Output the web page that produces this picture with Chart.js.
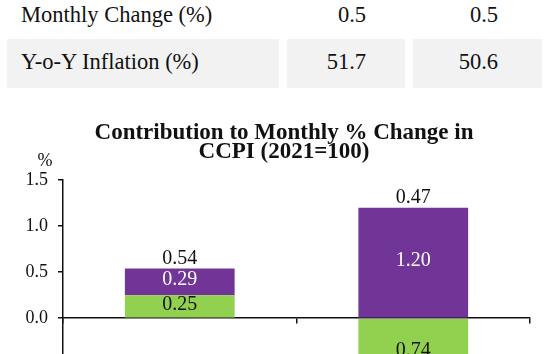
<!DOCTYPE html>
<html>
<head>
<meta charset="utf-8">
<script src="https://cdn.jsdelivr.net/npm/chart.js@4.4.0/dist/chart.umd.min.js"></script>
<style>
  html, body { margin: 0; padding: 0; width: 550px; height: 354px; overflow: hidden; background: #fff; }
  body { position: relative; font-family: "Liberation Serif", "Times New Roman", serif; color: #111; }
  .cell { position: absolute; box-sizing: border-box; font-family: "Liberation Serif", serif; font-size: 22.5px; line-height: 24px; white-space: nowrap; }
  .gray { background: #f2f2f2; }
  #chartBox { position: absolute; left: 0; top: 110px; width: 568px; height: 321px; }
</style>
</head>
<body>
<div id="table"></div>
<div id="chartBox"><canvas id="chart"></canvas></div>
<script>
// table above the chart
const rowLabels = ['Monthly Change (%)', 'Y-o-Y Inflation (%)'];
const firstColumn = ['0.5', '51.7'];
const secondColumn = ['0.5', '50.6'];

// chart data
const categories = ['January', 'February'];
const foodValues = [0.25, -0.74];
const nonFoodValues = [0.29, 1.20];
const totalValues = [0.54, 0.47];
const yTickValues = [-1.0, -0.5, 0.0, 0.5, 1.0, 1.5];

const FONT = '"Liberation Serif", "Times New Roman", serif';
const GREEN = '#92d050';
const PURPLE = '#703597';

function buildTable() {
  const table = document.getElementById('table');
  const rows = [
    { top: -8, height: 41, pad: 11, shade: false },
    { top: 39, height: 49, pad: 11, shade: true }
  ];
  const cols = [
    { left: 7, width: 272, align: 'left', pad: 14 },
    { left: 287, width: 118, align: 'right', pad: 39 },
    { left: 413, width: 129, align: 'right', pad: 44 }
  ];
  rows.forEach((r, i) => {
    const texts = [rowLabels[i], firstColumn[i], secondColumn[i]];
    cols.forEach((c, j) => {
      const div = document.createElement('div');
      div.className = 'cell' + (r.shade ? ' gray' : '');
      div.style.top = r.top + 'px';
      div.style.height = r.height + 'px';
      div.style.left = c.left + 'px';
      div.style.width = c.width + 'px';
      div.style.paddingTop = r.pad + 'px';
      div.style.textAlign = c.align;
      if (c.align === 'left') div.style.paddingLeft = c.pad + 'px';
      else div.style.paddingRight = c.pad + 'px';
      div.textContent = texts[j];
      table.appendChild(div);
    });
  });
}
buildTable();

// value labels inside the bars, totals above, and the % unit
const barLabels = {
  id: 'barLabels',
  beforeDatasetsDraw(chart) {
    const { ctx, scales } = chart;
    ctx.save();
    ctx.font = '20px ' + FONT;
    ctx.textAlign = 'center';
    ctx.textBaseline = 'middle';
    ctx.fillStyle = '#111';
    totalValues.forEach((t, j) => {
      const top = Math.max(0, foodValues[j]) + Math.max(0, nonFoodValues[j]);
      const x = chart.getDatasetMeta(0).data[j].x;
      ctx.fillText(t.toFixed(2), x, scales.y.getPixelForValue(top) - 10);
    });
    ctx.restore();
  },
  afterDatasetsDraw(chart) {
    const { ctx, chartArea } = chart;
    ctx.save();
    ctx.font = '20px ' + FONT;
    ctx.textAlign = 'center';
    ctx.textBaseline = 'middle';
    chart.data.datasets.forEach((ds, i) => {
      chart.getDatasetMeta(i).data.forEach((bar, j) => {
        const p = bar.getProps(['x', 'y', 'base'], true);
        ctx.fillStyle = ds.labelColor;
        ctx.fillText(Math.abs(ds.data[j]).toFixed(2), p.x, (p.y + p.base) / 2 - 2);
      });
    });
    ctx.font = '18px ' + FONT;
    ctx.fillStyle = '#111';
    ctx.fillText('%', chartArea.left - 18, chartArea.top - 19);
    ctx.restore();
  }
};

new Chart(document.getElementById('chart'), {
  type: 'bar',
  data: {
    labels: categories,
    datasets: [
      { label: 'Food', data: foodValues, backgroundColor: GREEN, labelColor: '#111' },
      { label: 'Non-Food', data: nonFoodValues, backgroundColor: PURPLE, labelColor: '#fff' }
    ]
  },
  options: {
    responsive: true,
    maintainAspectRatio: false,
    animation: false,
    events: [],
    layout: { padding: { left: 0, right: 0, top: 0, bottom: 12 } },
    datasets: { bar: { categoryPercentage: 1, barPercentage: 0.47 } },
    plugins: {
      legend: { display: false },
      tooltip: { enabled: false },
      title: {
        display: true,
        text: ['Contribution to Monthly % Change in', 'CCPI (2021=100)'],
        color: '#111',
        font: { family: FONT, size: 23, weight: 'bold', lineHeight: 0.85 },
        padding: { top: 13, bottom: 18 }
      }
    },
    scales: {
      x: {
        stacked: true,
        position: { y: 0 },
        ticks: { display: false },
        grid: { drawOnChartArea: false, offset: true, tickLength: 5, color: '#111', lineWidth: 1.5 },
        border: { color: '#111', width: 1.5 }
      },
      y: {
        stacked: true,
        min: -1.0,
        max: 1.5,
        afterBuildTicks(scale) { scale.ticks = yTickValues.map(v => ({ value: v })); },
        afterFit(scale) { scale.width = 63; },
        ticks: {
          callback: v => v.toFixed(1),
          color: '#111',
          padding: 10,
          font: { family: FONT, size: 18 }
        },
        grid: { drawOnChartArea: false, tickLength: 5, color: '#111', lineWidth: 1.5 },
        border: { color: '#111', width: 1.5 }
      },
      // empty right-hand space so the title stays centred like the original
      spacer: {
        type: 'linear',
        position: 'right',
        ticks: { display: false },
        grid: { display: false },
        border: { display: false },
        afterFit(scale) { scale.width = 38; }
      }
    }
  },
  plugins: [barLabels]
});
</script>
</body>
</html>
